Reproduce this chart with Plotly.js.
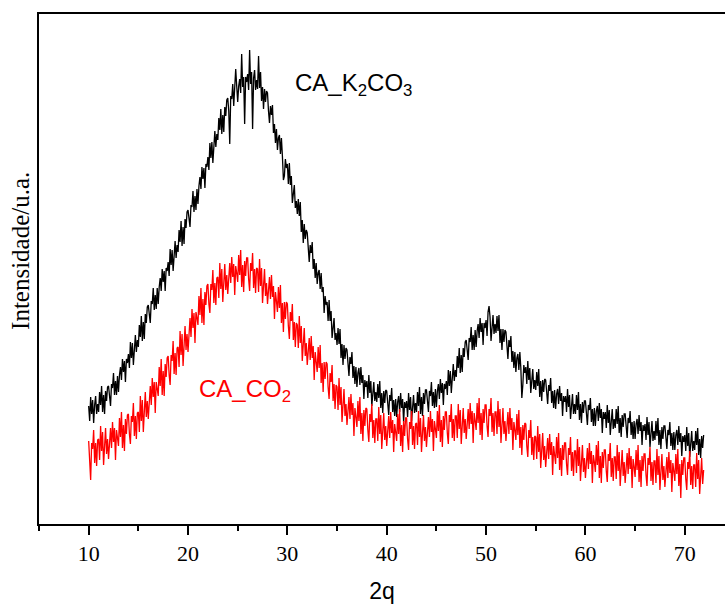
<!DOCTYPE html>
<html>
<head>
<meta charset="utf-8">
<script src="https://cdn.plot.ly/plotly-3.0.1.min.js"></script>
<style>html,body{margin:0;padding:0;background:#fff;}#chart{width:725px;height:604px;}</style>
</head>
<body>
<div id="chart"></div>
<script>
// 2-theta grid: start 10 degrees, step 0.1 degrees (one row = one degree)
var thetaStart = 10;
var thetaStep = 0.1;

// CA_K2CO3 intensities (a.u.)
var intensityK2CO3 = [
118,103,127,110,124,101,119,128,110,120,
112,132,119,138,112,129,110,133,123,137,
138,125,118,140,136,151,129,143,129,148,
132,149,157,144,165,152,163,142,165,161,
170,156,182,166,181,159,179,189,172,184,
177,199,187,208,183,202,185,210,201,217,
219,206,201,223,220,236,214,229,215,236,
220,237,246,233,255,242,253,233,256,253,
262,248,275,259,274,253,273,283,266,279,
272,294,282,303,278,297,280,305,296,312,
314,302,297,319,317,333,312,328,314,335,
320,338,347,335,357,345,356,336,360,357,
367,354,381,366,382,361,382,393,377,390,
384,406,394,415,390,409,392,417,408,424,
426,413,380,428,425,440,418,433,455,438,
422,438,445,431,470,437,447,400,447,442,
450,434,474,440,452,395,446,454,434,444,
435,468,436,452,423,437,415,435,422,433,
431,413,401,418,409,419,391,400,381,395,
374,386,389,370,386,368,344,348,365,356,
360,340,361,339,348,321,335,339,316,323,
310,325,308,322,292,304,281,300,285,294,
291,273,262,279,271,282,255,265,246,261,
240,251,254,235,251,232,237,211,228,219,
222,203,224,203,213,186,201,206,184,191,
179,196,180,195,166,180,159,179,165,176,
174,158,148,167,160,172,146,158,140,157,
137,151,156,139,157,141,149,125,144,137,
143,126,149,131,143,118,135,142,123,132,
122,140,126,143,116,131,111,133,121,134,
133,118,109,129,123,136,112,124,108,125,
107,122,128,112,131,116,125,102,122,116,
123,107,131,114,127,103,121,129,111,121,
112,132,118,137,110,127,108,131,120,134,
134,120,112,133,128,142,118,132,116,135,
117,133,140,125,145,131,141,119,140,135,
143,129,154,138,153,131,150,160,143,154,
147,168,156,176,151,169,152,176,167,182,
184,171,164,186,182,197,174,189,174,194,
177,193,200,186,206,192,201,179,201,196,
204,188,212,218,207,183,201,209,190,200,
191,208,193,209,181,195,174,195,182,194,
192,175,165,184,177,188,162,173,156,172,
152,166,170,154,172,156,126,139,159,151,
157,140,163,144,156,131,148,155,135,144,
134,152,138,155,127,143,123,144,132,145,
144,128,120,139,133,146,121,133,116,134,
115,130,135,120,138,123,131,108,128,122,
128,112,135,117,129,105,122,130,110,120,
110,129,114,132,104,120,101,122,111,123,
123,108,99,119,114,126,102,115,98,116,
98,113,118,103,121,106,115,91,112,105,
112,96,119,101,114,89,107,115,95,105,
96,115,100,118,91,106,87,109,97,110,
110,95,86,106,101,113,89,102,85,103,
85,100,105,90,109,93,102,79,99,93,
100,84,107,89,102,77,95,103,83,93,
84,103,88,106,79,94,75,97,85,98,
98,83,75,94,89,102,78,91,74,92,
74,89,94,79,98,82,91,68,88,82,
89,73,97,78,91,67,85,93,73,83,
74,93,79,96,69,85,66,88,76,89
];

// CA_CO2 intensities (a.u.)
var intensityCO2 = [
83,63,44,81,75,94,61,81,58,84,
85,64,98,73,92,59,84,96,70,85,
65,87,96,76,102,82,96,64,94,86,
78,106,87,112,76,99,73,105,90,109,
110,90,80,108,102,121,88,108,85,111,
112,92,128,103,124,92,119,132,107,123,
105,128,138,119,146,127,142,111,142,135,
128,157,138,165,129,153,128,160,147,166,
168,149,139,169,163,183,150,171,149,176,
177,157,193,169,190,158,185,198,174,190,
172,195,206,187,215,196,211,181,212,206,
199,228,209,236,201,225,199,232,219,238,
240,220,211,240,234,254,221,241,219,246,
247,226,261,235,255,222,248,260,234,249,
230,252,261,241,267,247,260,229,258,251,
242,269,249,274,237,259,232,263,248,266,
266,245,233,261,253,271,236,255,231,256,
255,232,265,238,256,221,245,255,228,241,
220,240,247,225,249,227,238,205,232,223,
212,237,216,239,201,221,192,222,205,222,
220,198,185,212,203,220,184,202,177,201,
199,176,208,181,198,163,186,196,168,181,
159,179,186,164,188,166,178,144,172,162,
152,177,156,179,141,161,132,162,145,162,
160,137,125,151,142,159,123,140,115,139,
137,114,146,119,137,102,125,135,108,120,
99,119,127,105,130,109,121,88,116,107,
97,123,103,127,90,111,83,114,98,116,
115,94,82,110,102,120,86,104,81,105,
105,83,117,90,109,75,100,111,84,98,
78,99,108,86,112,91,104,72,100,92,
83,110,90,115,78,99,72,103,88,106,
106,85,74,102,95,113,79,98,75,100,
101,79,113,87,106,72,98,109,83,97,
77,98,107,87,113,92,105,73,103,95,
86,113,93,119,82,104,77,108,94,112,
112,91,80,109,102,120,86,105,83,108,
108,86,120,95,114,80,105,116,91,105,
85,106,115,95,121,100,113,81,111,103,
94,121,101,126,89,111,84,115,101,119,
119,98,87,115,108,126,92,111,88,112,
112,90,123,97,115,81,106,116,90,103,
83,103,112,90,116,94,106,74,102,94,
84,110,89,114,76,97,69,99,84,101,
100,78,67,94,86,104,69,87,64,88,
87,65,98,72,90,56,80,91,64,78,
57,78,86,65,90,69,82,49,78,69,
60,87,66,91,54,76,48,79,64,81,
81,60,49,76,69,87,53,72,48,73,
73,51,85,58,77,43,68,79,52,66,
46,67,76,55,81,60,73,41,69,62,
52,79,59,83,46,68,41,72,56,74,
74,53,42,70,63,81,47,66,43,67,
67,45,79,53,72,38,63,74,48,62,
41,62,71,50,76,55,68,36,65,57,
47,74,54,79,42,64,37,68,53,70,
70,49,38,66,59,77,43,62,39,63,
63,41,75,49,68,34,59,70,44,58,
37,58,67,46,72,51,64,32,61,53,
43,70,50,75,38,60,26,64,49,66,
66,45,34,62,55,73,39,58,35,59,
59,37,71,45,64,30,55,66,40,54
];

var seriesNames = ['CA_K<sub>2</sub>CO<sub>3</sub>', 'CA_CO<sub>2</sub>'];
var seriesColors = ['#000000', '#ff0000'];
var xTickVals = [10, 20, 30, 40, 50, 60, 70];
var yTitleText = 'Intensidade/u.a.';
var xTitleText = '2q';

var traces = [
  {type: 'scatter', mode: 'lines', x0: thetaStart, dx: thetaStep, y: intensityK2CO3,
   name: seriesNames[0], line: {color: seriesColors[0], width: 1.3}, hoverinfo: 'skip'},
  {type: 'scatter', mode: 'lines', x0: thetaStart, dx: thetaStep, y: intensityCO2,
   name: seriesNames[1], line: {color: seriesColors[1], width: 1.3}, hoverinfo: 'skip'}
];

var layout = {
  width: 725, height: 604,
  margin: {l: 39, r: 0, t: 14, b: 80, pad: 0},
  paper_bgcolor: '#ffffff', plot_bgcolor: '#ffffff',
  showlegend: false,
  xaxis: {
    range: [5, 74.05],
    showline: true, linecolor: '#000', linewidth: 2, mirror: true,
    showgrid: false, zeroline: false,
    ticks: 'outside', ticklen: 9, tickwidth: 2, tickcolor: '#000',
    tickvals: xTickVals,
    minor: {dtick: 5, tick0: 5, ticks: 'outside', ticklen: 5, tickwidth: 2, tickcolor: '#000', showgrid: false},
    tickfont: {family: 'Liberation Serif, Times New Roman, serif', size: 22, color: '#000'},
    title: {text: xTitleText, font: {family: 'Liberation Sans, Arial, sans-serif', size: 23, color: '#000'}, standoff: 17}
  },
  yaxis: {
    range: [0, 510],
    showline: true, linecolor: '#000', linewidth: 2, mirror: false,
    showgrid: false, zeroline: false, ticks: '', showticklabels: false
  },
  annotations: [
    {x: -0.028, y: 0.535, xref: 'paper', yref: 'paper', xanchor: 'center', yanchor: 'middle', showarrow: false,
     textangle: -90, text: yTitleText,
     font: {family: 'Liberation Serif, Times New Roman, serif', size: 25, color: '#000'}},
    {x: 30.55, y: 440, xref: 'x', yref: 'y', xanchor: 'left', yanchor: 'middle', showarrow: false,
     text: seriesNames[0], font: {family: 'Liberation Sans, Arial, sans-serif', size: 24, color: seriesColors[0]}},
    {x: 20.95, y: 134, xref: 'x', yref: 'y', xanchor: 'left', yanchor: 'middle', showarrow: false,
     text: seriesNames[1], font: {family: 'Liberation Sans, Arial, sans-serif', size: 24, color: seriesColors[1]}}
  ]
};

Plotly.newPlot('chart', traces, layout, {displayModeBar: false, staticPlot: true});
</script>
</body>
</html>
